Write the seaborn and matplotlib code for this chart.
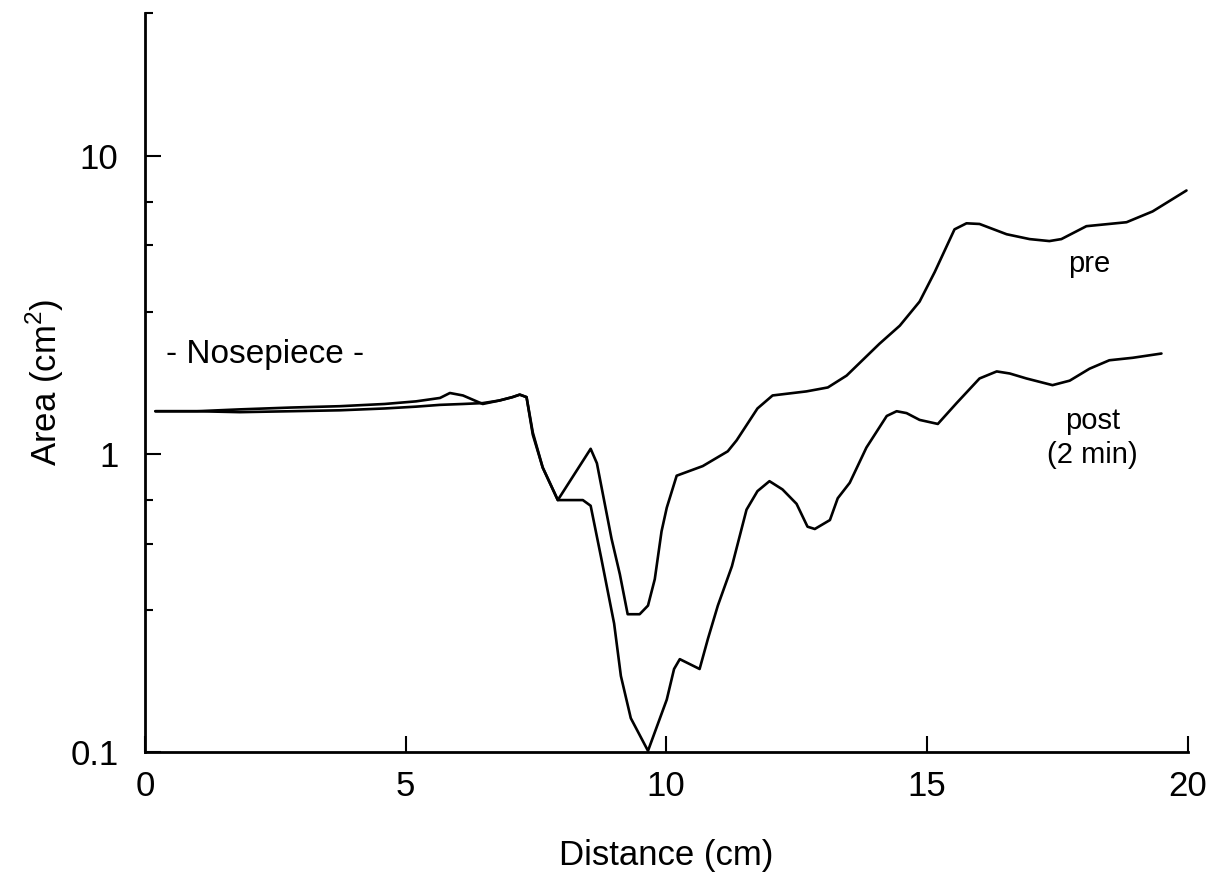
import numpy as np
import pandas as pd
import matplotlib
matplotlib.use("Agg")
import matplotlib.pyplot as plt
import seaborn as sns
from matplotlib.ticker import FixedLocator, FixedFormatter, NullFormatter

# ---- data ----
pre_x = [0.2, 1.0, 1.82, 2.8, 3.74, 4.6, 5.2, 5.66, 5.85, 6.1, 6.48, 6.8, 7.05, 7.19, 7.32,
         7.44, 7.63, 7.92, 8.55, 8.67, 8.95, 9.11, 9.26, 9.49, 9.65, 9.78, 9.91, 10.01, 10.2,
         10.7, 11.18, 11.35, 11.75, 12.04, 12.69, 13.1, 13.46, 14.09, 14.48, 14.86, 15.15,
         15.38, 15.53, 15.76, 16.01, 16.53, 16.97, 17.35, 17.58, 18.06, 18.83, 19.33, 19.98]
pre_y = [1.39, 1.39, 1.41, 1.43, 1.445, 1.47, 1.50, 1.54, 1.60, 1.57, 1.47, 1.51, 1.55, 1.58, 1.55,
         1.16, 0.90, 0.70, 1.04, 0.93, 0.52, 0.395, 0.29, 0.29, 0.31, 0.38, 0.55, 0.66, 0.845,
         0.91, 1.02, 1.11, 1.42, 1.57, 1.62, 1.67, 1.83, 2.34, 2.69, 3.24, 4.07,
         4.97, 5.66, 5.93, 5.9, 5.45, 5.25, 5.17, 5.25, 5.8, 5.98, 6.5, 7.64]

post_x = [0.2, 1.0, 1.82, 2.8, 3.74, 4.6, 5.2, 5.66, 6.1, 6.48, 6.8, 7.05, 7.19, 7.32,
          7.44, 7.63, 7.92, 8.4, 8.55, 8.75, 9.0, 9.13, 9.32, 9.65, 10.01, 10.15, 10.26, 10.64,
          10.8, 10.99, 11.26, 11.54, 11.75, 11.98, 12.23, 12.5, 12.71, 12.85, 13.14, 13.29,
          13.52, 13.84, 14.23, 14.42, 14.61, 14.86, 15.21, 15.57, 16.01, 16.34, 16.59, 16.91,
          17.41, 17.74, 18.12, 18.5, 18.95, 19.5]
post_y = [1.39, 1.39, 1.38, 1.39, 1.40, 1.42, 1.44, 1.46, 1.47, 1.48, 1.51, 1.55, 1.58, 1.55,
          1.18, 0.90, 0.70, 0.70, 0.67, 0.45, 0.27, 0.18, 0.13, 0.101, 0.15, 0.19, 0.205, 0.19,
          0.24, 0.31, 0.42, 0.65, 0.75, 0.81, 0.76, 0.68, 0.57, 0.56, 0.60, 0.71,
          0.80, 1.05, 1.34, 1.39, 1.37, 1.30, 1.26, 1.48, 1.79, 1.89, 1.86, 1.79,
          1.70, 1.76, 1.93, 2.06, 2.10, 2.17]

x_ticks = [0, 5, 10, 15, 20]
y_major = [0.1, 1, 10]
y_major_labels = ["0.1", "1", "10"]
y_minor = [0.3, 0.5, 0.7, 3, 5, 7, 30]

pre_df = pd.DataFrame({"Distance": pre_x, "Area": pre_y})
post_df = pd.DataFrame({"Distance": post_x, "Area": post_y})

# ---- figure ----
sns.set_theme(style="ticks")
plt.rcParams["font.family"] = ["Liberation Sans", "DejaVu Sans"]
plt.rcParams["text.color"] = "black"
plt.rcParams["axes.labelcolor"] = "black"
plt.rcParams["mathtext.fontset"] = "custom"
plt.rcParams["mathtext.rm"] = "Liberation Sans"

fig = plt.figure(figsize=(12.13, 8.88), dpi=100)
ax = fig.add_axes([0.1195, 0.153, 0.8595, 0.832])

sns.lineplot(data=pre_df, x="Distance", y="Area", ax=ax, color="black", linewidth=1.9, sort=False)
sns.lineplot(data=post_df, x="Distance", y="Area", ax=ax, color="black", linewidth=1.9, sort=False)

ax.set_yscale("log")
ax.set_xlim(0, 20)
ax.set_ylim(0.1, 30)

ax.yaxis.set_major_locator(FixedLocator(y_major))
ax.yaxis.set_major_formatter(FixedFormatter(y_major_labels))
ax.yaxis.set_minor_locator(FixedLocator(y_minor))
ax.yaxis.set_minor_formatter(NullFormatter())
ax.xaxis.set_major_locator(FixedLocator(x_ticks))
ax.set_xticklabels([str(t) for t in x_ticks])
ax.xaxis.set_minor_locator(FixedLocator([]))

ax.tick_params(axis="both", which="major", direction="in", length=11.5, width=1.5,
               labelsize=25, colors="black")
ax.tick_params(axis="x", which="major", pad=13)
ax.tick_params(axis="y", which="major", pad=19)
ax.tick_params(axis="y", which="minor", direction="in", length=5.5, width=1.5, colors="black")

for s in ["top", "right"]:
    ax.spines[s].set_visible(False)
for s in ["left", "bottom"]:
    ax.spines[s].set_linewidth(2.0)
    ax.spines[s].set_color("black")

ax.set_xlabel("Distance (cm)", fontsize=25, labelpad=26, color="black")
ax.set_ylabel("Area (cm$^2$)", fontsize=25, labelpad=3, color="black")

ax.text(2.3, 2.15, "- Nosepiece -", fontsize=24, ha="center", va="center", color="black")
ax.text(18.12, 4.33, "pre", fontsize=21, ha="center", va="center", color="black")
ax.text(18.18, 1.13, "post\n(2 min)", fontsize=21, ha="center", va="center",
        linespacing=1.3, color="black")

fig.savefig("out.png", dpi=100, facecolor="white")
